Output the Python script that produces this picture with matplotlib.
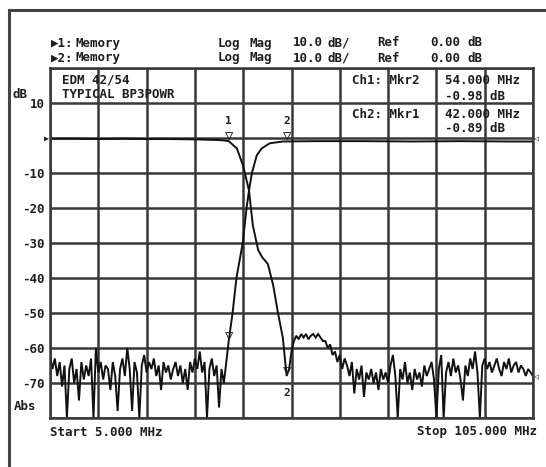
import numpy as np
import matplotlib
matplotlib.use("Agg")
import matplotlib.pyplot as plt
from matplotlib.lines import Line2D

# ---------------- data ----------------
# Ch2 (low-pass) passband + transition (MHz, dB)
lp_pass_f = [5, 10, 15, 20, 25, 30, 35, 38, 40, 41, 42, 43.7, 45.0, 46.2, 47.0,
             48.1, 48.9, 50.1, 51.2, 52.2, 53.2, 53.7, 54.0]
lp_pass_db = [-0.2, -0.2, -0.3, -0.2, -0.3, -0.3, -0.4, -0.5, -0.6, -0.7, -0.89, -3, -8, -15, -25,
              -32, -34, -36, -42, -50, -57, -64, -68]
# Ch2 stop-band hump
lp_hump_f = [54.5, 55.0, 55.5, 56.0, 56.5, 57.0, 57.5, 58.0, 58.5, 59.0, 59.5, 60.0,
             60.5, 61.0, 61.5, 62.0, 62.5, 63.0, 63.5, 64.0, 64.5, 65.0, 65.5, 66.0]
lp_hump_db = [-66, -61, -58, -56.5, -57.5, -56, -57, -56, -57.5, -56.5, -56, -57,
              -56, -57, -58, -58, -60, -59, -62, -61, -64, -62, -66, -63]
# Ch2 stop-band noise, 66.5 .. 105 MHz (0.5 MHz steps)
lp_noise_f = np.arange(66.5, 105.01, 0.5)
lp_noise_db = [-65, -68, -64, -73, -66, -69, -65, -74, -67, -69, -66, -70, -67, -72, -66, -69,
               -67, -70, -65, -62, -68, -80, -66, -69, -64, -70, -67, -72, -66, -69, -67, -71,
               -65, -68, -66, -64, -69, -80, -66, -62, -80, -67, -64, -68, -63, -67, -65, -69,
               -75, -65, -68, -63, -66, -61, -67, -80, -65, -63, -66, -64, -67, -65, -63, -66,
               -68, -64, -66, -63, -67, -65, -64, -67, -65, -66, -68, -66, -67, -68]

# Ch1 (high-pass) stop-band noise, 5 .. 41.5 MHz (0.5 MHz steps)
hp_noise_f = np.arange(5.0, 41.51, 0.5)
hp_noise_db = [-62, -66, -63, -68, -64, -71, -65, -80, -66, -63, -70, -66, -75, -64, -69, -65,
               -68, -63, -80, -60, -67, -64, -69, -65, -66, -72, -64, -68, -78, -66, -63, -68,
               -60, -66, -78, -64, -67, -80, -65, -62, -67, -64, -66, -63, -68, -65, -72, -64,
               -67, -65, -69, -66, -64, -68, -65, -70, -66, -72, -64, -67, -63, -66, -61, -67,
               -64, -80, -66, -63, -68, -65, -77, -66, -70, -64]
# Ch1 transition + passband
hp_pass_f = [42.0, 42.8, 43.6, 44.9, 45.7, 46.2, 46.8, 47.8, 48.8, 50.5, 53.2, 54.0,
             60, 70, 80, 90, 100, 105]
hp_pass_db = [-58, -50, -40, -30, -20, -15, -10, -5, -3, -1.5, -1.0, -0.98,
              -0.9, -0.9, -1.0, -0.9, -1.0, -1.0]

# markers: (freq, value) on each trace
mkr1_f, mkr2_f = 42.0, 54.0
mkr1_on_lp, mkr2_on_hp = -0.89, -0.98
mkr1_on_hp, mkr2_on_lp = -58.0, -68.0

yticks = [20, 10, 0, -10, -20, -30, -40, -50, -60, -70, -80]
ytick_labels = ['', '10', '', '-10', '-20', '-30', '-40', '-50', '-60', '-70', '']
xticks = list(range(5, 106, 10))

# ---------------- figure ----------------
W, H = 546, 467
fig = plt.figure(figsize=(W / 100, H / 100), dpi=100)
fig.patch.set_facecolor('white')

FONT = ['DejaVu Sans Mono', 'DejaVu Sans']
TXT = '#1e1e1e'
GRID = '#383838'


def px(x, y):
    return x / W, 1 - y / H


def T(x, y, s, ha='left', size=9):
    fig.text(*px(x, y), s, ha=ha, va='center', fontsize=size, fontweight='bold',
             family=FONT, color=TXT)


ax = fig.add_axes([50 / W, 1 - 418 / H, (533 - 50) / W, (418 - 68) / H])
ax.set_xlim(5, 105)
ax.set_ylim(-80, 20)
ax.set_xticks(xticks)
ax.set_xticklabels([])
ax.set_yticks(yticks)
ax.set_yticklabels(ytick_labels, fontsize=9, fontweight='bold', family=FONT, color=TXT)
ax.tick_params(length=0, pad=4)
ax.grid(True, color=GRID, lw=1.8)
for sp in ax.spines.values():
    sp.set_color(GRID)
    sp.set_linewidth(1.8)

tr = dict(color='#111111', lw=1.4, solid_joinstyle='miter')
lp_f = list(lp_pass_f) + list(lp_hump_f) + list(lp_noise_f)
lp_db = list(lp_pass_db) + list(lp_hump_db) + list(lp_noise_db)
hp_f = list(hp_noise_f) + list(hp_pass_f)
hp_db = list(hp_noise_db) + list(hp_pass_db)
ax.plot(lp_f, lp_db, **tr)
ax.plot(hp_f, hp_db, **tr)

# marker triangles
for f, v in [(mkr1_f, mkr1_on_lp), (mkr2_f, mkr2_on_hp), (mkr1_f, mkr1_on_hp), (mkr2_f, mkr2_on_lp)]:
    ax.annotate('▽', xy=(f, v), xytext=(0, -1.5), textcoords='offset points', ha='center',
                va='bottom', fontsize=10, family=FONT, color=TXT)
ax.annotate('1', xy=(mkr1_f, mkr1_on_lp), xytext=(0, 11), textcoords='offset points',
            ha='center', va='bottom', fontsize=8, fontweight='bold', family=FONT, color=TXT)
ax.annotate('2', xy=(mkr2_f, mkr2_on_hp), xytext=(0, 11), textcoords='offset points',
            ha='center', va='bottom', fontsize=8, fontweight='bold', family=FONT, color=TXT)
ax.annotate('2', xy=(mkr2_f, mkr2_on_lp), xytext=(0, -9), textcoords='offset points',
            ha='center', va='top', fontsize=8, fontweight='bold', family=FONT, color=TXT)

# reference / end markers
ax.annotate('▶', xy=(5, 0), xytext=(-1, 0), textcoords='offset points', ha='right',
            va='center', fontsize=6, family=FONT, color=TXT, annotation_clip=False)
ax.annotate('◁', xy=(105, 0), xytext=(1, 0), textcoords='offset points', ha='left',
            va='center', fontsize=6, family=FONT, color=TXT, annotation_clip=False)
ax.annotate('◁', xy=(105, lp_noise_db[-1]), xytext=(1, 0), textcoords='offset points', ha='left',
            va='center', fontsize=6, family=FONT, color=TXT, annotation_clip=False)

# outer frame
fig.add_artist(Line2D([9 / W, 1.0], [1 - 10 / H, 1 - 10 / H], color='#444444', lw=2.2))
fig.add_artist(Line2D([9 / W, 9 / W], [1 - 10 / H, 0.0], color='#444444', lw=2.2))

# header
for y, ch in [(43, '▶1:'), (58, '▶2:')]:
    T(51, y, ch)
    T(75, y, 'Memory')
    T(218, y, 'Log')
    T(250, y, 'Mag')
    T(293, y, '10.0')
    T(328, y, 'dB/')
    T(377, y, 'Ref')
    T(430, y, '0.00')
    T(467, y, 'dB')

# annotations inside grid
T(62, 80, 'EDM 42/54')
T(62, 95, 'TYPICAL BP3POWR')
T(352, 80, 'Ch1: Mkr2')
T(445, 80, '54.000 MHz')
T(445, 96, '-0.98 dB')
T(352, 115, 'Ch2: Mkr1')
T(445, 115, '42.000 MHz')
T(445, 129, '-0.89 dB')

# axis side texts
T(12, 94, 'dB')
T(14, 407, 'Abs')
T(50, 432, 'Start 5.000 MHz')
T(537, 432, 'Stop 105.000 MHz', ha='right')

fig.savefig('out.png', dpi=100, facecolor='white')
